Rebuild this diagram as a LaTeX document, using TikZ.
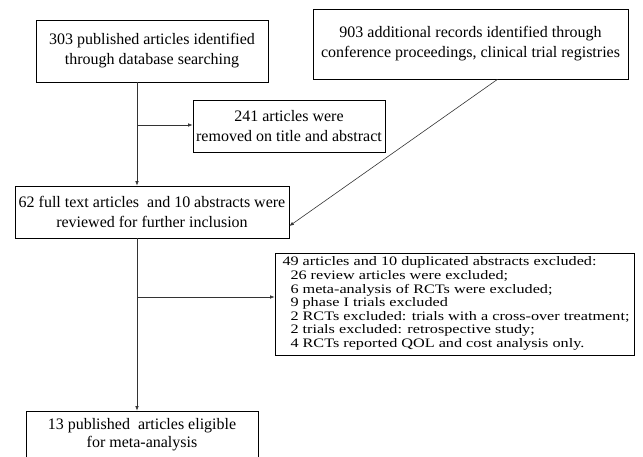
\documentclass[tikz,border=0pt]{standalone}
\usepackage{fontspec}
\setmainfont{Liberation Serif}
\usetikzlibrary{arrows.meta}
\newcommand{\boxfont}{\fontsize{16}{20}\selectfont}
\newcommand{\listfont}{\fontsize{16.2}{17}\selectfont}

\begin{document}
\begin{tikzpicture}[x=1pt,y=-1pt,
  box/.style={draw,line width=0.7pt,inner sep=0pt,align=center,font=\boxfont},
  arr/.style={-{Latex[length=4.5pt,width=3.5pt]},line width=0.6pt,black!80}]
\useasboundingbox (0,0) rectangle (643,456);
\clip (0,0) rectangle (643,456);
% boxes
\node[box,minimum width=232pt,minimum height=62pt] (pub) at (152,51) {303 published articles identified\\through database searching};
\node[box,minimum width=315pt,minimum height=70pt] (conf) at (470.5,44) {903 additional records identified through\\conference proceedings, clinical trial registries};
\node[box,minimum width=192pt,minimum height=52pt] (removed) at (289,126) {241 articles were\\removed on title and abstract};
\node[box,minimum width=274pt,minimum height=52pt] (review) at (152,212) {62 full text articles\ \ and 10 abstracts were\\reviewed for further inclusion};
\node[box,minimum width=359pt,minimum height=102pt] (excl) at (454.5,304) {\hspace*{3pt}\scalebox{1}[0.8]{\listfont\begin{tabular}{@{}l@{}}
49 articles and 10 duplicated abstracts excluded:\\
\hspace*{8pt}26 review articles were excluded;\\
\hspace*{8pt}6 meta-analysis of RCTs were excluded;\\
\hspace*{8pt}9 phase I trials excluded\\
\hspace*{8pt}2 RCTs excluded: trials with a cross-over treatment;\\
\hspace*{8pt}2 trials excluded: retrospective study;\\
\hspace*{8pt}4 RCTs reported QOL and cost analysis only.
\end{tabular}}};
\node[box,minimum width=232pt,minimum height=47pt,font=\fontsize{16}{18}\selectfont] (elig) at (142,434.5) {13 published\ \ articles eligible\\for meta-analysis};
% connectors
\coordinate (j1) at (137,125);
\coordinate (j2) at (137,297);
\draw[arr] (pub.south -| j1) -- (review.north -| j1);
\draw[arr] (j1) -- (removed.west |- j1);
\draw[arr] (review.south -| j2) -- (elig.north -| j2);
\draw[arr] (j2) -- (excl.west |- j2);
\draw[arr] ([xshift=27pt]conf.south) -- ([yshift=-14pt]review.east);
\end{tikzpicture}
\end{document}
